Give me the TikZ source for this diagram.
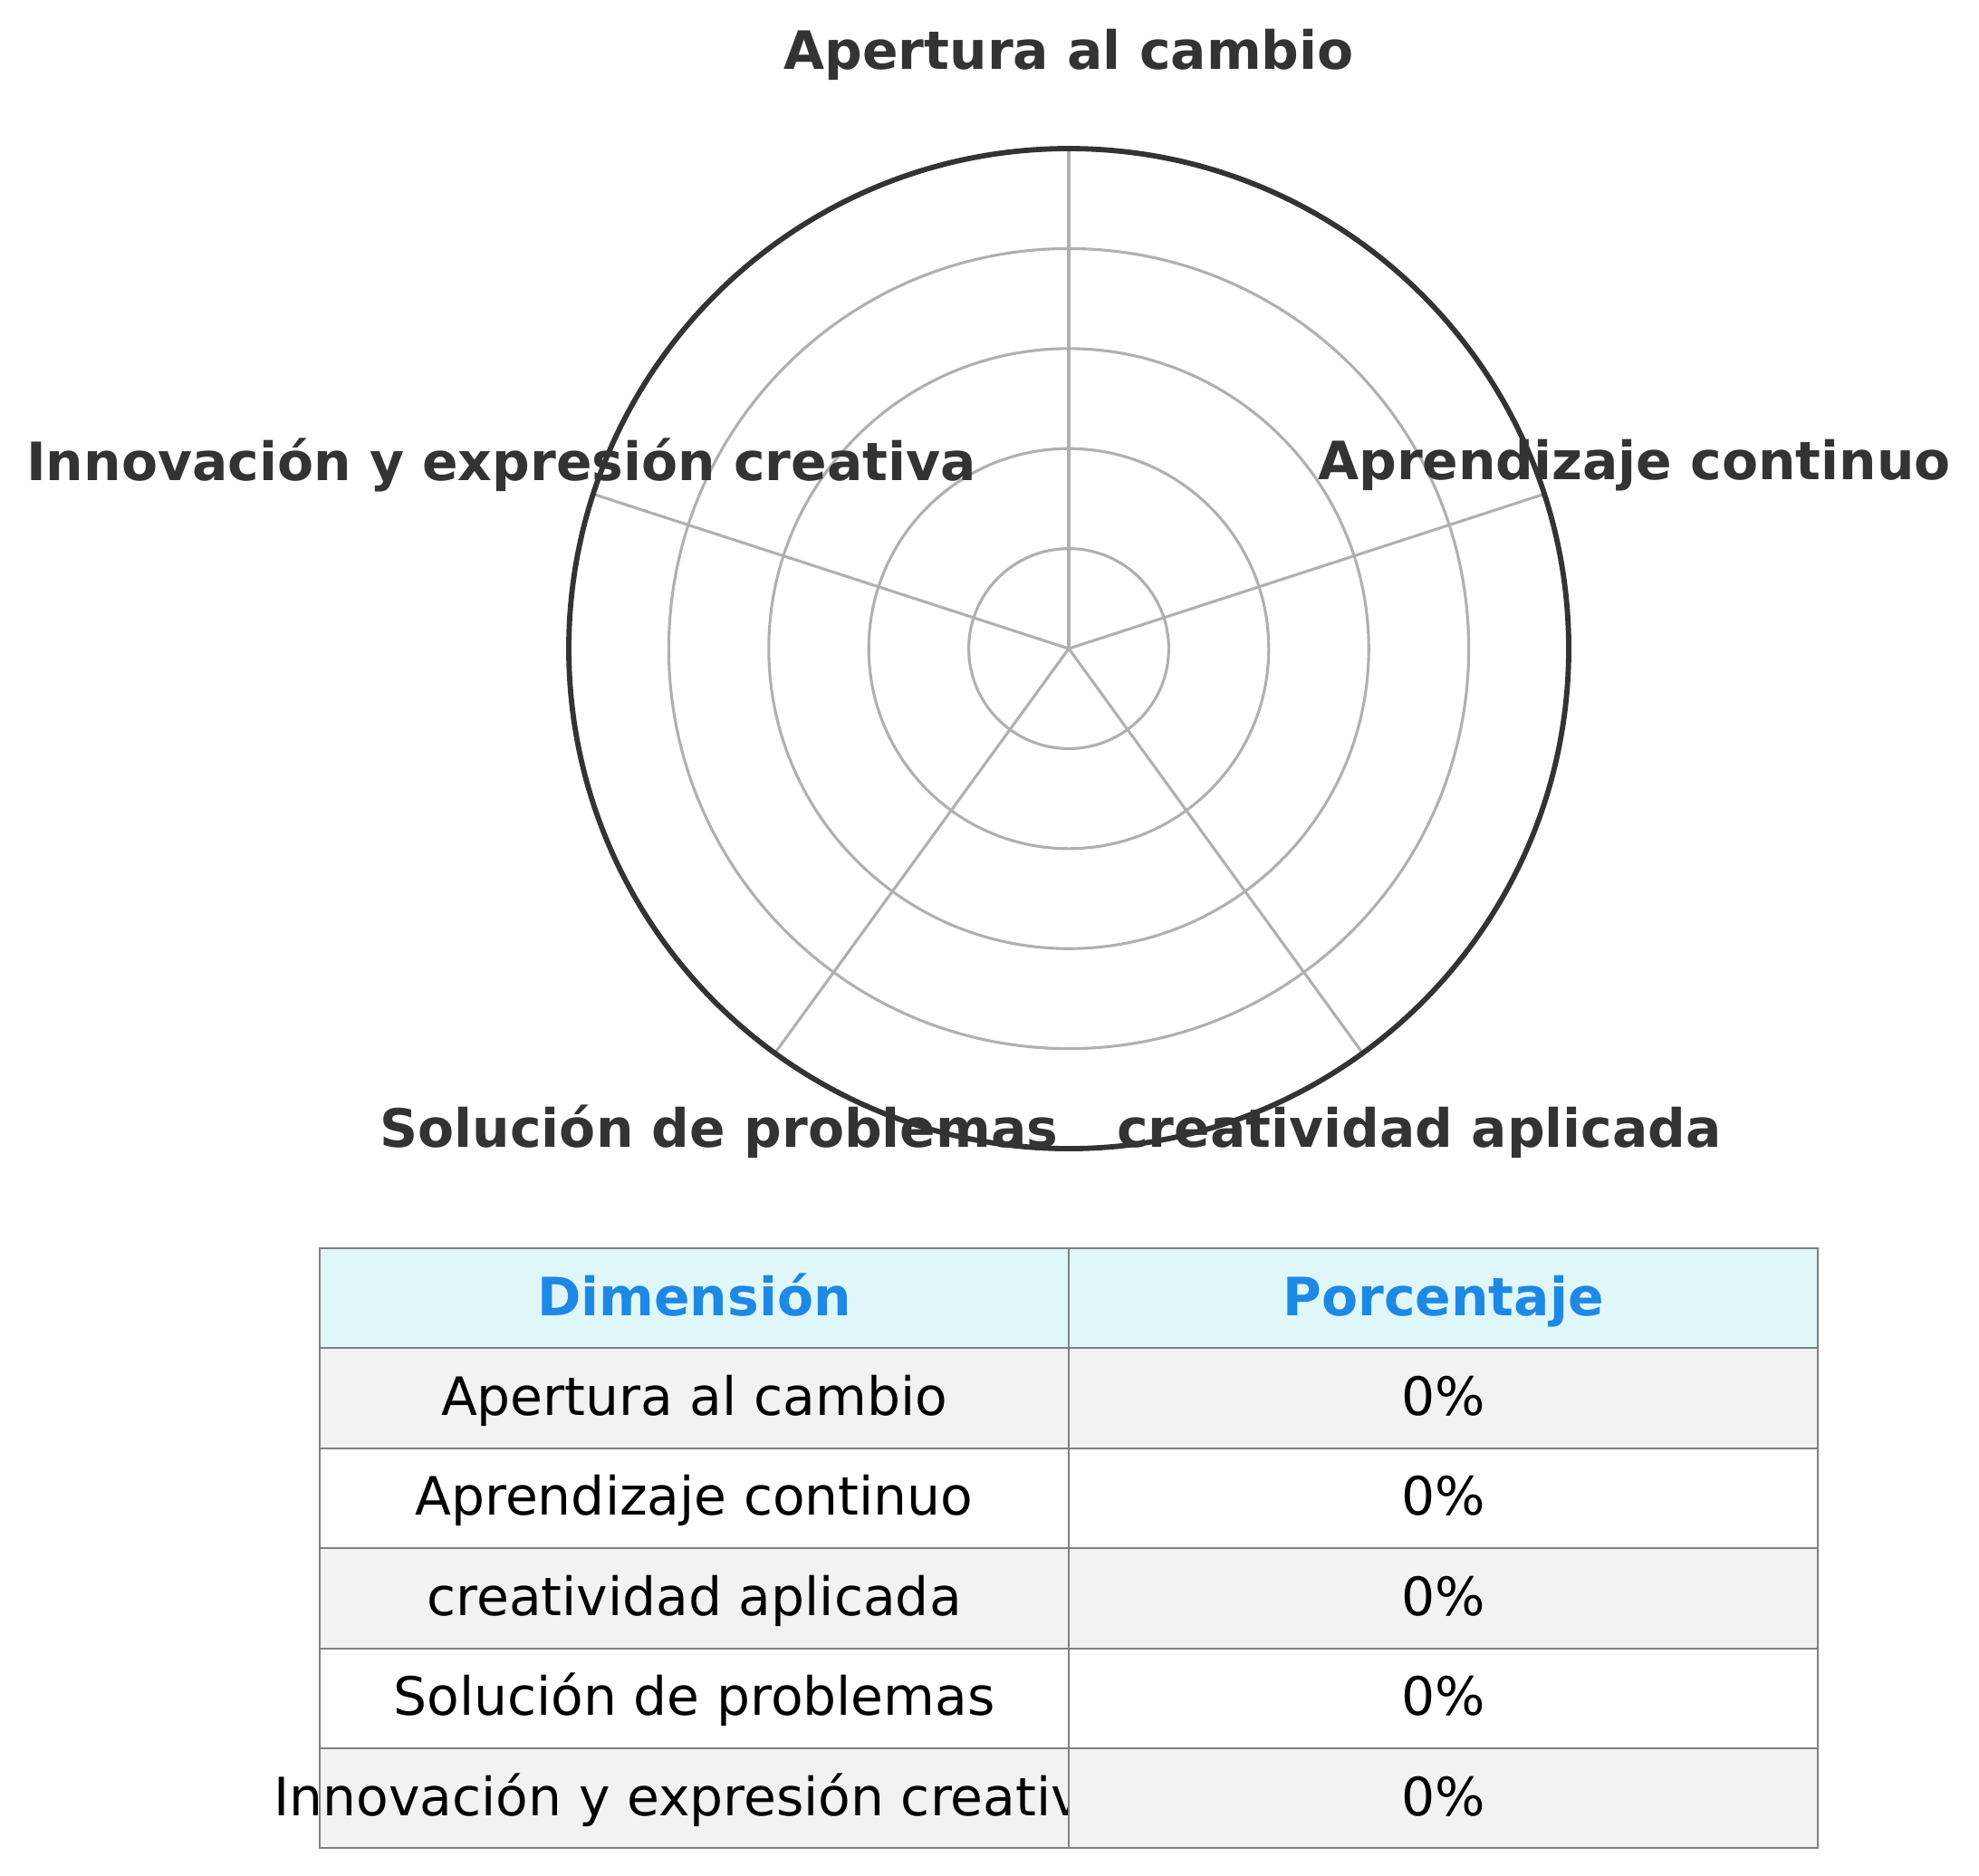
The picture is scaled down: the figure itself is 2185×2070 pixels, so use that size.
\documentclass[tikz,border=0pt]{standalone}
\usepackage{fontspec}
\setmainfont{DejaVu Sans}
\usetikzlibrary{calc}
\definecolor{lblgray}{HTML}{333333}
\definecolor{gridgray}{HTML}{B0B0B0}
\definecolor{edgegray}{HTML}{808080}
\definecolor{hdrfill}{HTML}{E0F7FA}
\definecolor{hdrblue}{HTML}{1E88E5}
\definecolor{rowgray}{HTML}{F2F2F2}
\begin{document}
\begin{tikzpicture}[x=0.24pt,y=-0.24pt,
  lbl/.style={font=\fontsize{14}{16.8}\selectfont\bfseries, text=lblgray, anchor=base, inner sep=0pt},
  celltext/.style={font=\fontsize{14}{16.8}\selectfont, text=black, anchor=base, inner sep=0pt},
  hdrtext/.style={font=\fontsize{14}{16.8}\selectfont\bfseries, text=hdrblue, anchor=base, inner sep=0pt},
  gridline/.style={draw=gridgray, line width=0.75pt},
  rimline/.style={draw=lblgray, line width=1.4pt},
  tblcell/.style={draw=edgegray, line width=0.5pt}]
\useasboundingbox (0,0) rectangle (2185,2070);
% radar grid
\coordinate (ctr) at (1180,716);
\foreach \r in {110.4,220.8,331.2,441.6}
  \draw[gridline] (ctr) circle (\r);
\foreach \a/\n in {90/A,18/B,-54/C,-126/D,162/E}{
  \coordinate (sp\n) at ($(ctr)+(-\a:552)$);
  \draw[gridline] (ctr) -- (sp\n);
}
\draw[rimline] (ctr) circle (552);
% axis labels
\node[lbl] (lA) at (1180,76) {Apertura al cambio};
\node[lbl] (lB) at (1804.5,529) {Aprendizaje continuo};
\node[lbl] (lC) at (1567,1266) {creatividad aplicada};
\node[lbl] (lD) at (794,1266) {Solución de problemas};
\node[lbl] (lE) at (553.5,530) {Innovación y expresión creativa};
% table
\foreach \i/\fc/\ta/\tb/\st in {
  0/hdrfill/Dimensión/Porcentaje/hdrtext,
  1/rowgray/Apertura al cambio/0\%/celltext,
  2/white/Aprendizaje continuo/0\%/celltext,
  3/rowgray/creatividad aplicada/0\%/celltext,
  4/white/Solución de problemas/0\%/celltext,
  5/rowgray/Innovación y expresión creativa/0\%/celltext}{
  \pgfmathsetmacro{\yt}{1378+110.4*\i}
  \pgfmathsetmacro{\yb}{1378+110.4*(\i+1)}
  \pgfmathsetmacro{\yl}{\yt+74}
  \draw[tblcell, fill=\fc] (353,\yt) rectangle (1180,\yb);
  \node[\st] (c\i a) at (766.5,\yl) {\ta};
  \draw[tblcell, fill=\fc] (1180,\yt) rectangle (2007,\yb);
  \node[\st] (c\i b) at (1593.5,\yl) {\tb};
}
\end{tikzpicture}
\end{document}
